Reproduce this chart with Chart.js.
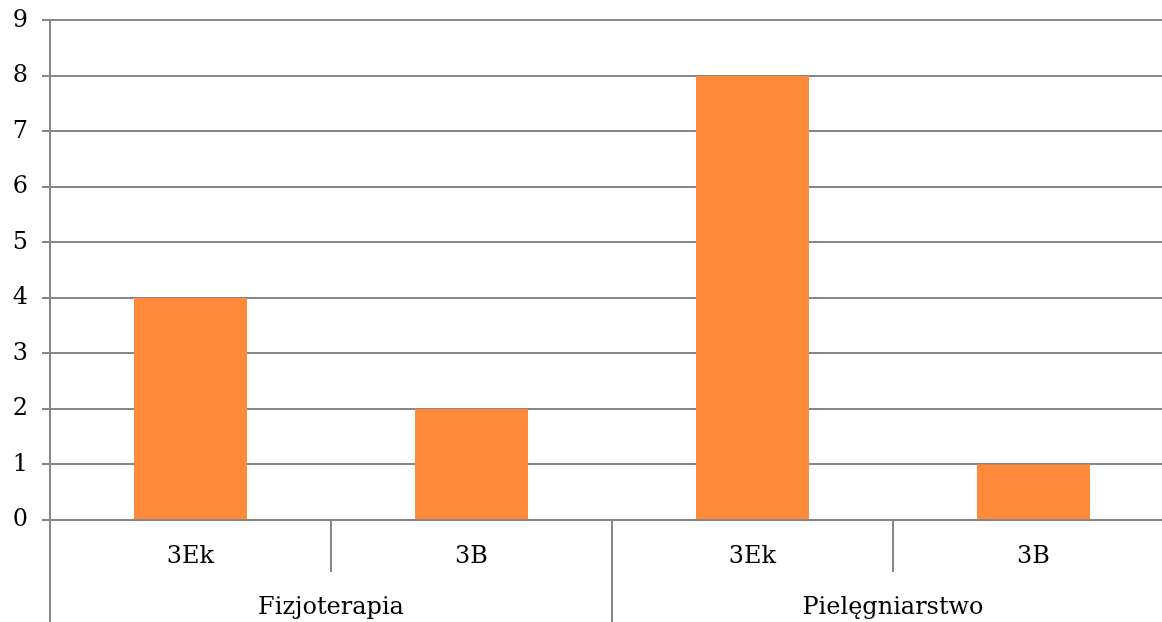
<!DOCTYPE html>
<html>
<head>
<meta charset="utf-8">
<script src="https://cdn.jsdelivr.net/npm/chart.js@4/dist/chart.umd.min.js"></script>
<style>
html,body{margin:0;padding:0;background:#fff;overflow:hidden;}
#clip{width:1162px;height:622px;overflow:hidden;position:relative;}
#wrap{width:1174px;height:630px;position:absolute;left:0;top:-8px;}
</style>
</head>
<body>
<div id="clip"><div id="wrap"><canvas id="c"></canvas></div></div>
<script>
const categories = ['3Ek', '3B', '3Ek', '3B'];
const groups = ['Fizjoterapia', 'Pielęgniarstwo'];
const groupSizes = [2, 2];
const values = [4, 2, 8, 1];
const yTicks = [0, 1, 2, 3, 4, 5, 6, 7, 8, 9];

const FONT = "'DejaVu Serif', serif";
const GRID = '#878787';

const groupPlugin = {
  id: 'groupPlugin',
  afterDraw(chart) {
    const ctx = chart.ctx;
    const x = chart.scales.x;
    const area = chart.chartArea;
    const half = (x.getPixelForValue(1) - x.getPixelForValue(0)) / 2;
    ctx.save();
    ctx.strokeStyle = GRID;
    ctx.lineWidth = 2;
    let idx = 0;
    const boundaries = [0];
    groupSizes.forEach(s => { idx += s; boundaries.push(idx); });
    for (let i = 1; i < categories.length; i++) {
      const px = Math.round(x.getPixelForValue(i) - half);
      const isGroup = boundaries.includes(i);
      ctx.beginPath();
      ctx.moveTo(px, area.bottom);
      ctx.lineTo(px, isGroup ? chart.height : area.bottom + 52);
      ctx.stroke();
    }
    ctx.beginPath();
    ctx.moveTo(area.left, area.bottom);
    ctx.lineTo(area.left, chart.height);
    ctx.stroke();
    ctx.fillStyle = '#000';
    ctx.font = '24px ' + FONT;
    ctx.textAlign = 'center';
    ctx.textBaseline = 'middle';
    let start = 0;
    groups.forEach((g, gi) => {
      const end = start + groupSizes[gi] - 1;
      const cx = (x.getPixelForValue(start) + x.getPixelForValue(end)) / 2;
      ctx.fillText(g, cx, area.bottom + 88);
      start = end + 1;
    });
    ctx.restore();
  }
};

new Chart(document.getElementById('c'), {
  type: 'bar',
  data: {
    labels: categories,
    datasets: [{
      data: values,
      backgroundColor: '#FF8A3A',
      borderWidth: 0,
      barPercentage: 0.402,
      categoryPercentage: 1.0
    }]
  },
  options: {
    responsive: true,
    maintainAspectRatio: false,
    animation: false,
    events: [],
    layout: { padding: { top: 6, right: 0, left: 0, bottom: 0 } },
    plugins: { legend: { display: false }, tooltip: { enabled: false } },
    scales: {
      x: {
        grid: { display: false, drawTicks: false },
        border: { display: false },
        ticks: { color: '#000', font: { family: FONT, size: 24 }, padding: 22 },
        afterFit(s) { s.height = 102; }
      },
      y: {
        min: 0,
        max: 9,
        afterBuildTicks(s) { s.ticks = yTicks.map(v => ({ value: v })); },
        grid: { color: GRID, lineWidth: 2, tickLength: 8 },
        border: { color: GRID, width: 2 },
        ticks: { color: '#000', font: { family: FONT, size: 24 }, padding: 14 },
        afterFit(s) { s.width = 50; }
      }
    }
  },
  plugins: [groupPlugin]
});
</script>
</body>
</html>
